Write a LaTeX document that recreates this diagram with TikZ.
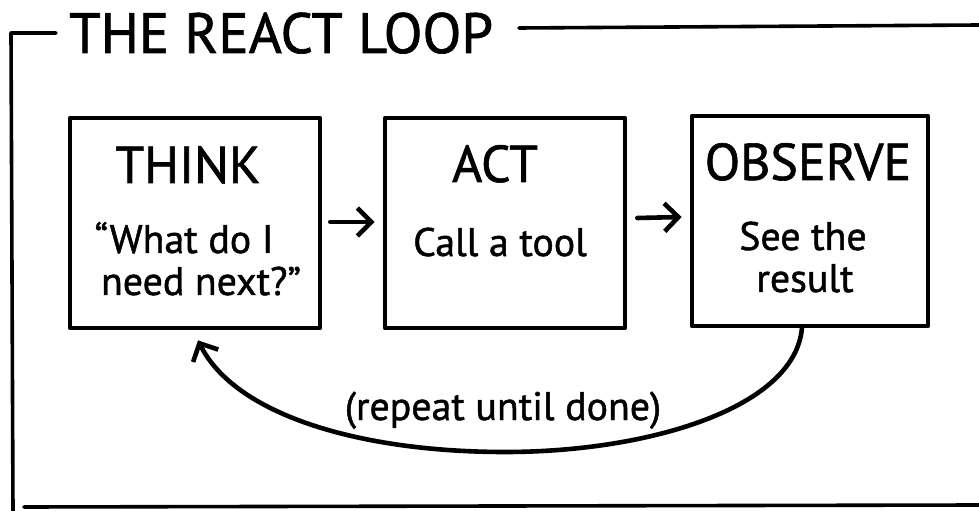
\documentclass[tikz,border=0pt]{standalone}
\usepackage{fontspec}
\setmainfont[FakeBold=1.2]{PT Sans}
\usetikzlibrary{arrows.meta,calc}
\begin{document}
\begin{tikzpicture}[x=1bp,y=-1bp,
  ink/.style={line width=4.6bp, line cap=round, line join=round},
  thin ink/.style={line width=3.6bp, line cap=round, line join=round},
  stepbox/.style={draw, ink, inner sep=0pt, minimum height=210bp},
  heading/.style={font=\fontsize{52}{60}\selectfont, anchor=base, inner sep=0pt},
  body/.style={font=\fontsize{40}{46}\selectfont, anchor=base, inner sep=0pt},
  title/.style={font=\fontsize{57}{64}\selectfont, anchor=base west, inner sep=0pt},
  flow/.style={ink, -{Straight Barb[length=14bp,width=28bp]}}]
\useasboundingbox (0,0) rectangle (979,511);

% outer frame with the title set into its top edge
\node[title] (title) at (69,53) {THE REACT LOOP};
\coordinate (fTL) at (11,33);
\coordinate (fTa) at (56,33);
\coordinate (fTb) at (519,28);
\coordinate (fTR) at (979,25);
\coordinate (fBL) at (13,511);
\coordinate (fBa) at (24,507);
\coordinate (fBR) at (979,505);
\draw[thin ink] (fTa) -- (fTL) -- (fBL);
\draw[thin ink] (fTb) -- (fTR);
\draw[thin ink] (fBa) -- (fBR);

% the three steps
\node[stepbox, minimum width=250bp] (think) at (195,223) {};
\node[stepbox, minimum width=240bp] (act)   at (505,223) {};
\node[stepbox, minimum width=236bp] (obs)   at (810,221) {};

\node[heading] (thinkH) at (188,183) {THINK};
\node[body] (thinkL1) at (184,253) {“What do I};
\node[body] (thinkL2) at (201,295) {need next?”};

\node[heading] (actH) at (495,182) {ACT};
\node[body] (actL1) at (500,256) {Call a tool};

\node[heading] (obsH) at (808,180) {OBSERVE};
\node[body] (obsL1) at (803,250) {See the};
\node[body] (obsL2) at (805,292) {result};

% forward arrows
\draw[flow] ($(think.east)+(8,-1)$) -- ($(act.west)+(-8,-1)$);
\draw[flow] ($(act.east)+(10,-5)$) -- ($(obs.west)+(-8,-4)$);

% loop back from OBSERVE to THINK
\coordinate (loopS) at ($(obs.south)+(-8,-1)$);
\coordinate (loopE) at ($(think.south)+(3,10)$);
\coordinate (loopB) at (505,452);
\draw[flow] (loopS) .. controls ($(loopS)+(-6,80)$) and (650,452) .. (loopB)
  .. controls (360,452) and (235,415) .. (loopE);
\node[body] (loopLabel) at (503,420) {(repeat until done)};
\end{tikzpicture}
\end{document}
